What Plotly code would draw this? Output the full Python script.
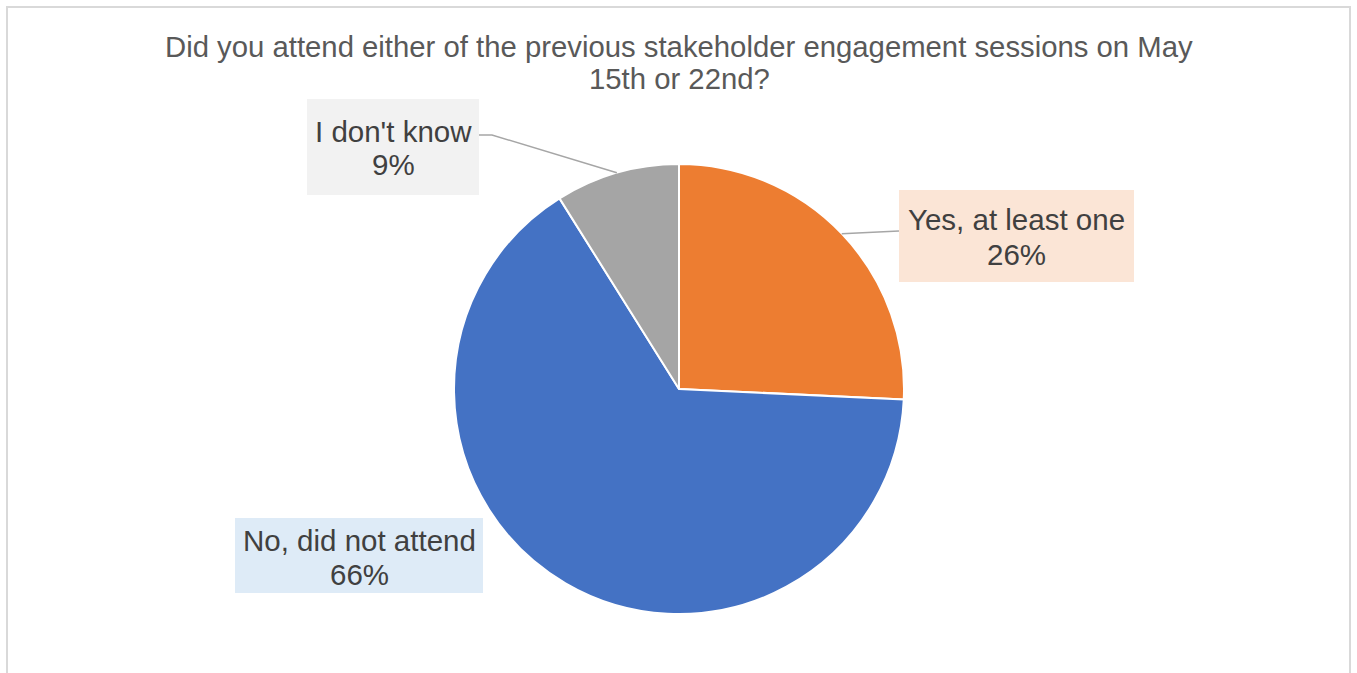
import math
import plotly.graph_objects as go

# Survey responses
categories = ["Yes, at least one", "No, did not attend", "I don't know"]
shares = [26, 66, 9]
slice_colors = ["#ED7D31", "#4472C4", "#A5A5A5"]
box_colors = ["#FBE5D6", "#DEEBF7", "#F2F2F2"]
title_lines = [
    "Did you attend either of the previous stakeholder engagement sessions on May",
    "15th or 22nd?",
]

W, H = 1357, 673
CX, CY, R = 679, 389, 225  # pie centre and radius in px


def px(x):
    return x / W


def py(y):
    return 1 - y / H


fig = go.Figure(
    go.Pie(
        labels=categories,
        values=shares,
        sort=False,
        direction="clockwise",
        rotation=0,
        marker=dict(colors=slice_colors, line=dict(color="white", width=2)),
        textinfo="none",
        hoverinfo="label+value",
        showlegend=False,
        domain=dict(x=[px(CX - R), px(CX + R)], y=[py(CY + R), py(CY - R)]),
    )
)

# label boxes: left, top, right, bottom (px) and the vertical centre of each text line
boxes = {
    "Yes, at least one": ((899, 190, 1134, 282), (220, 254)),
    "No, did not attend": ((235, 518, 483, 593), (540, 574)),
    "I don't know": ((307, 99, 479, 195), (132, 164)),
}

annotations = []
shapes = []

# title, one annotation per line to keep the tight line spacing
for line, ly in zip(title_lines, (47, 78)):
    annotations.append(dict(
        text=line, x=px(CX), y=py(ly), xref="paper", yref="paper",
        xanchor="center", yanchor="middle", showarrow=False,
        font=dict(size=29.3, color="#595959"),
    ))

for cat, val, bg in zip(categories, shares, box_colors):
    (x0, y0, x1, y1), (l1, l2) = boxes[cat]
    shapes.append(dict(type="rect", xref="paper", yref="paper",
                       x0=px(x0), x1=px(x1), y0=py(y1), y1=py(y0),
                       fillcolor=bg, line=dict(width=0), layer="above"))
    xc = (x0 + x1) / 2
    for txt, ly in ((cat, l1), (f"{val}%", l2)):
        annotations.append(dict(
            text=txt, x=px(xc), y=py(ly), xref="paper", yref="paper",
            xanchor="center", yanchor="middle", showarrow=False,
            font=dict(size=29.5, color="#404040"),
        ))

# leader lines from the boxes to the middle of their slice edges
total = sum(shares)
cum = 0
mids = {}
for cat, val in zip(categories, shares):
    mid = (cum + val / 2) / total * 2 * math.pi
    mids[cat] = (CX + R * math.sin(mid), CY - R * math.cos(mid))
    cum += val

line_style = dict(color="#A6A6A6", width=1.5)
ex, ey = mids["Yes, at least one"]
shapes.append(dict(type="path", xref="paper", yref="paper",
                   path=f"M {px(899)} {py(231)} L {px(ex)} {py(ey)}",
                   line=line_style))
ex, ey = mids["I don't know"]
shapes.append(dict(type="path", xref="paper", yref="paper",
                   path=f"M {px(479)} {py(135)} L {px(492)} {py(135)} L {px(ex)} {py(ey)}",
                   line=line_style))

# chart frame
shapes.append(dict(type="rect", xref="paper", yref="paper",
                   x0=px(7), x1=px(1350), y0=py(700), y1=py(7),
                   line=dict(color="#D9D9D9", width=2), layer="below"))

fig.update_layout(
    width=W, height=H,
    margin=dict(l=0, r=0, t=0, b=0),
    paper_bgcolor="white", plot_bgcolor="white",
    font=dict(family="Liberation Sans, Arial, sans-serif"),
    annotations=annotations,
    shapes=shapes,
)

fig.write_html("out.html", config={"displayModeBar": False})
